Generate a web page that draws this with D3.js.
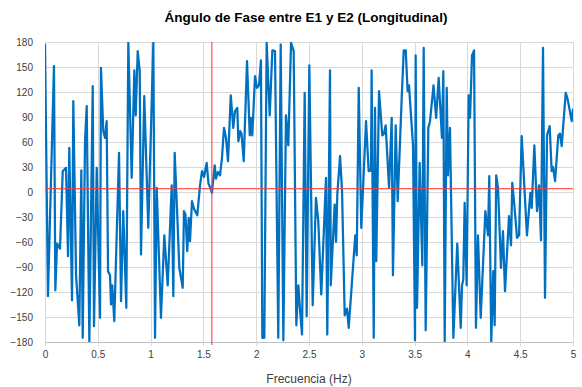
<!DOCTYPE html>
<html>
<head>
<meta charset="utf-8">
<script src="https://cdn.jsdelivr.net/npm/d3@7"></script>
<style>
  html, body { margin: 0; padding: 0; background: #fff; }
  svg { display: block; font-family: "Liberation Sans", Arial, sans-serif; }
</style>
</head>
<body>
<svg id="chart" width="582" height="387"></svg>
<script>
// Phase angle between E1 and E2 versus frequency
const freqHz = [
  0.000, 0.028, 0.085, 0.098, 0.114, 0.142, 0.168, 0.199, 0.218, 0.230,
  0.256, 0.268, 0.294, 0.325, 0.344, 0.357, 0.379, 0.395, 0.420, 0.452,
  0.464, 0.490, 0.521, 0.530, 0.552, 0.568, 0.584, 0.597, 0.616, 0.625,
  0.637, 0.656, 0.701, 0.720, 0.741, 0.770, 0.789, 0.821, 0.846, 0.859,
  0.878, 0.897, 0.909, 0.940, 0.978, 1.026, 1.042, 1.058, 1.098, 1.130,
  1.162, 1.200, 1.215, 1.228, 1.250, 1.272, 1.304, 1.316, 1.330, 1.347,
  1.361, 1.373, 1.392, 1.411, 1.442, 1.468, 1.487, 1.506, 1.531, 1.548,
  1.562, 1.581, 1.607, 1.619, 1.638, 1.657, 1.676, 1.695, 1.714, 1.733,
  1.759, 1.783, 1.799, 1.821, 1.831, 1.849, 1.861, 1.882, 1.913, 1.939,
  1.951, 1.963, 1.989, 2.008, 2.027, 2.045, 2.058, 2.077, 2.099, 2.128,
  2.153, 2.178, 2.209, 2.232, 2.257, 2.282, 2.304, 2.330, 2.355, 2.380,
  2.399, 2.420, 2.434, 2.459, 2.478, 2.503, 2.535, 2.566, 2.588, 2.616,
  2.661, 2.673, 2.699, 2.706, 2.743, 2.756, 2.768, 2.794, 2.813, 2.838,
  2.860, 2.876, 2.938, 2.952, 2.971, 2.995, 3.040, 3.065, 3.087, 3.093,
  3.113, 3.125, 3.137, 3.163, 3.194, 3.210, 3.226, 3.258, 3.283, 3.295,
  3.321, 3.340, 3.378, 3.397, 3.416, 3.434, 3.447, 3.485, 3.504, 3.510,
  3.523, 3.548, 3.573, 3.586, 3.605, 3.630, 3.646, 3.679, 3.704, 3.728,
  3.759, 3.772, 3.785, 3.804, 3.816, 3.835, 3.867, 3.904, 3.937, 3.949,
  3.961, 3.974, 3.993, 4.012, 4.025, 4.044, 4.063, 4.081, 4.100, 4.126,
  4.170, 4.195, 4.207, 4.226, 4.245, 4.258, 4.273, 4.290, 4.318, 4.337,
  4.356, 4.394, 4.413, 4.425, 4.444, 4.470, 4.489, 4.514, 4.564, 4.596,
  4.609, 4.634, 4.659, 4.678, 4.697, 4.716, 4.735, 4.754, 4.779, 4.798,
  4.811, 4.830, 4.861, 4.877, 4.893, 4.931, 4.948, 4.988, 5.000
];
const phaseDeg = [
   178, -125,  151, -118,  -62,  -68,   25,   29,  -77,   53,
  -130,  109, -100, -160,   26, -175,   61,  103, -179,  127,
  -161,   29, -151,  149,   73,   65,   85,  -95, -100, -135,
  -112, -155,   47, -131,  -23, -139,  179,   17,  146,   92,
   169,  145,  -75,  115,  -43,  179, -175,    5, -151,  -52,
  -112,    8, -125,   47,  -20,  -91, -115,  -23,  -27,  -71,
   -31,  -59,  -11,  -20,  -28,    8,   25,   18,   35,   10,
     6,   -1,   32,   16,   24,   20,   41,   77,   65,   37,
   116,   77,   97,  101,   61,   73,   70,   37,  157,   68,
    89,   68,  139,  125,  128,  158, -175, -175,  179,   92,
   170,  169, -175,  177, -178,   92,   56,  179,  169, -160,
  -112, -150, -171,  119, -149,  152, -136,   -7,  -35, -123,
    17, -171,  146, -112,  -15,  -60,   -3,   43,    1, -148,
  -140, -163,  -52,  -76,  125,  -43,   85,   25,   26,  146,
  -175,  101,  -83,  121,   68,   70,   80,    5,   89, -100,
    80,  -11,  113,  170,  170,  121,  128,   56, -178,  164,
  -139,   35,  -88,  173, -166,   77,   85,  128,   89,  137,
    65,  145, -179,  125,   20,   77, -175,  -62, -163, -112,
  -105,  -13, -112,  116,   89,  164,  170, -163,  -52, -151,
   -23,  -52,   19, -179,  -95, -160,   20,    5,  -91,  -47,
  -119,  -29,  -64,   11,  -15,  -55,  -52,   67,  -52,   -1,
   -19,   56,  -23,    8,  -58,  173, -127,   68,   79,   25,
    30,   13,   68,   70,   55,  119,  112,   85,  100
];
const yTicks = [180, 150, 120, 90, 60, 30, 0, -30, -60, -90, -120, -150, -180];
const xTicks = [0, 0.5, 1, 1.5, 2, 2.5, 3, 3.5, 4, 4.5, 5];
const markerFreq = [1.58];
const markerDeg = [4];

const data = freqHz.map((f, i) => ({ f, v: phaseDeg[i] }));

const svg = d3.select("#chart");
const plotLeft = 45, plotRight = 573, plotTop = 42, plotBottom = 342;

const x = d3.scaleLinear().domain([0, 5]).range([plotLeft, plotRight]);
const y = d3.scaleLinear().domain([-180, 180]).range([plotBottom, plotTop]);

// Title
svg.append("text")
  .attr("x", 306).attr("y", 22)
  .attr("text-anchor", "middle")
  .attr("font-size", 13.5).attr("font-weight", "bold")
  .attr("fill", "#000")
  .text("Ángulo de Fase entre E1 y E2 (Longitudinal)");

// Gridlines
svg.append("g").selectAll("line").data(yTicks).join("line")
  .attr("x1", plotLeft).attr("x2", plotRight)
  .attr("y1", d => y(d) + 0.5).attr("y2", d => y(d) + 0.5)
  .attr("stroke", d => d === -180 ? "#bfbfbf" : "#d9d9d9").attr("stroke-width", 1);
svg.append("g").selectAll("line").data(xTicks).join("line")
  .attr("x1", d => Math.round(x(d)) + 0.5).attr("x2", d => Math.round(x(d)) + 0.5)
  .attr("y1", plotTop).attr("y2", plotBottom + 4)
  .attr("stroke", "#d9d9d9").attr("stroke-width", 1);

// Axis labels
const yAxis = d3.axisLeft(y).tickValues(yTicks).tickSize(0).tickPadding(12);
const gy = svg.append("g").attr("transform", `translate(${plotLeft},0)`).call(yAxis);
gy.select(".domain").remove();
gy.selectAll("text").attr("font-size", 10).attr("fill", "#404040")
  .attr("font-family", "'Liberation Sans', Arial, sans-serif");

const xAxis = d3.axisBottom(x).tickValues(xTicks).tickSize(0).tickPadding(9)
  .tickFormat(d3.format("~g"));
const gx = svg.append("g").attr("transform", `translate(0,${plotBottom})`).call(xAxis);
gx.select(".domain").remove();
gx.selectAll("text").attr("font-size", 10).attr("fill", "#404040")
  .attr("font-family", "'Liberation Sans', Arial, sans-serif");

svg.append("text")
  .attr("x", 309).attr("y", 383)
  .attr("text-anchor", "middle")
  .attr("font-size", 12).attr("fill", "#404040")
  .text("Frecuencia  (Hz)");

// Clip to plot area
svg.append("clipPath").attr("id", "plotClip")
  .append("rect").attr("x", plotLeft).attr("y", plotTop)
  .attr("width", plotRight - plotLeft).attr("height", plotBottom - plotTop);

const plot = svg.append("g").attr("clip-path", "url(#plotClip)");

// Phase curve
const line = d3.line().x(d => x(d.f)).y(d => y(d.v));
plot.append("path").datum(data)
  .attr("d", line)
  .attr("fill", "none")
  .attr("stroke", "#0070C0")
  .attr("stroke-width", 2.25)
  .attr("stroke-linejoin", "round");

// Reference lines
plot.append("g").selectAll("line").data(markerDeg).join("line")
  .attr("x1", plotLeft).attr("x2", plotRight)
  .attr("y1", d => y(d)).attr("y2", d => y(d))
  .attr("stroke", "#ff3b3b").attr("stroke-width", 1.25).attr("stroke-opacity", 0.85);
svg.append("g").selectAll("line").data(markerFreq).join("line")
  .attr("x1", d => x(d)).attr("x2", d => x(d))
  .attr("y1", plotTop).attr("y2", plotBottom + 3)
  .attr("stroke", "#ff3b3b").attr("stroke-width", 1.25).attr("stroke-opacity", 0.85);
</script>
</body>
</html>
